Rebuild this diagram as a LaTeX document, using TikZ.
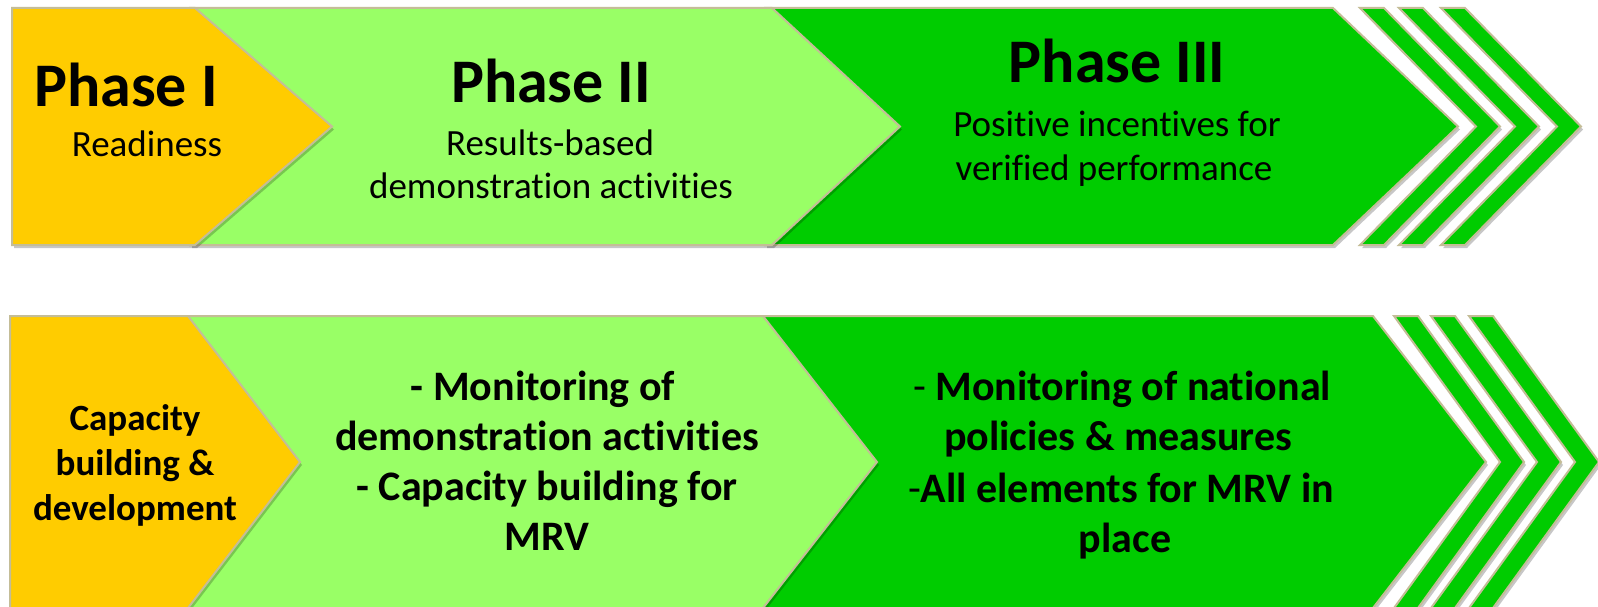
\documentclass[tikz,border=0pt]{standalone}
\usepackage{fontspec}
\setmainfont[RawFeature=-liga]{Carlito}
\usetikzlibrary{shadows}
\definecolor{cOrange}{HTML}{FFCC00}
\definecolor{cLight}{HTML}{99FF66}
\definecolor{cDark}{HTML}{00CC00}
\definecolor{cEdge}{HTML}{C4BD97}
\begin{document}
\begin{tikzpicture}[x=1pt,y=-1pt,
  arrowshape/.style={draw=cEdge, line width=2pt, line join=miter,
    drop shadow={shadow xshift=2pt, shadow yshift=-3pt, fill=black, opacity=0.22}},
  txt/.style={anchor=base, inner sep=0pt, text=black},
  titlef/.style={txt, font=\fontsize{62}{70}\selectfont\bfseries},
  subf/.style={txt, font=\fontsize{37}{44}\selectfont},
  boldsub/.style={txt, font=\fontsize{37}{45}\selectfont\bfseries},
  boldmain/.style={txt, font=\fontsize{42}{50}\selectfont\bfseries}]
\useasboundingbox (0,0) rectangle (1598,607);
\fill[white] (0,0) rectangle (1598,607);
% ---- top row ----
\path[arrowshape, fill=cDark] (765,8) -- (1333,8) -- (1458,126.5) -- (1333,245) -- (765,245) -- cycle;
\foreach \a in {1360,1399,1441}
  \path[arrowshape, fill=cDark] (\a,8) -- ++(24,0) -- ++(116,118.5) -- ++(-116,118.5) -- ++(-24,0) -- ++(116,-118.5) -- cycle;
\path[arrowshape, fill=cLight] (190,8) -- (772,8) -- (900,126.5) -- (772,245) -- (190,245) -- cycle;
\path[arrowshape, fill=cOrange] (12,8) -- (195,8) -- (332,126.5) -- (195,245) -- (12,245) -- cycle;
% ---- bottom row ----
\path[arrowshape, fill=cDark] (758,316) -- (1373,316) -- (1486,462) -- (1373,608) -- (758,608) -- cycle;
\foreach \a in {1394,1431,1469}
  \path[arrowshape, fill=cDark] (\a,316) -- ++(24,0) -- ++(106,146) -- ++(-106,146) -- ++(-24,0) -- ++(106,-146) -- cycle;
\path[arrowshape, fill=cLight] (183,316) -- (763,316) -- (877,462) -- (763,608) -- (183,608) -- cycle;
\path[arrowshape, fill=cOrange] (10,316) -- (188,316) -- (300,462) -- (188,608) -- (10,608) -- cycle;
% ---- top texts ----
\node[titlef] (p1t) at (126,107) {Phase I};
\node[subf] (p1s) at (147,157) {Readiness};
\node[titlef] (p2t) at (551,103) {Phase II};
\node[subf] (p2a) at (550,155) {Results-based};
\node[subf] (p2b) at (551,198) {demonstration activities};
\node[titlef] (p3t) at (1117,83) {Phase III};
\node[subf] (p3a) at (1117,137) {Positive incentives for};
\node[subf] (p3b) at (1114,180) {verified performance};
% ---- bottom texts ----
\node[boldsub] (b1a) at (135,430) {Capacity};
\node[boldsub] (b1b) at (135,475) {building \&};
\node[boldsub] (b1c) at (135,520) {development};
\node[boldmain] (b2a) at (543,400) {- Monitoring of};
\node[boldmain] (b2b) at (547,450) {demonstration activities};
\node[boldmain] (b2c) at (547,500) {- Capacity building for};
\node[boldmain] (b2d) at (547,550) {MRV};
\node[boldmain] (b3a) at (1122,400) {\mdseries-\bfseries{} Monitoring of national};
\node[boldmain] (b3b) at (1118,450) {policies \& measures};
\node[boldmain] (b3c) at (1121,502) {\mdseries-\bfseries All elements for MRV in};
\node[boldmain] (b3d) at (1125,552) {place};
\end{tikzpicture}
\end{document}
